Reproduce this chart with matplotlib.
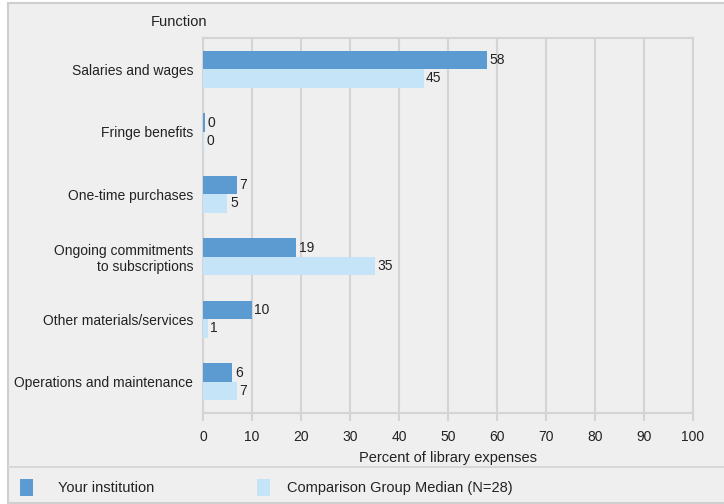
import matplotlib
matplotlib.use("Agg")
import matplotlib.pyplot as plt
from matplotlib.patches import Rectangle
import numpy as np

plt.rcParams['font.family'] = ['Liberation Sans', 'DejaVu Sans']

categories = ["Salaries and wages", "Fringe benefits", "One-time purchases",
              "Ongoing commitments\nto subscriptions", "Other materials/services",
              "Operations and maintenance"]
your_inst = [58, 0.4, 7, 19, 10, 6]
comparison = [45, 0.2, 5, 35, 1, 7]
xticks = [0, 10, 20, 30, 40, 50, 60, 70, 80, 90, 100]
series_names = ["Your institution", "Comparison Group Median (N=28)"]

c_dark = "#5b9bd1"
c_light = "#c6e4f7"
bg = "#efefef"
gridc = "#d4d4d4"

W, H = 724, 504
fig = plt.figure(figsize=(W / 100, H / 100), dpi=100, facecolor="white")

# outer panel
fig.patches.append(Rectangle((8 / W, 1 - 503 / H), (W - 8) / W + 0.01, 500 / H,
                             transform=fig.transFigure, facecolor=bg,
                             edgecolor="#cfcfcf", lw=1.5, zorder=-2))
# separator line for legend strip
fig.add_artist(plt.Line2D([8 / W, 1], [1 - 467 / H, 1 - 467 / H],
                          transform=fig.transFigure, color="#d8d8d8", lw=1.5))

ax = fig.add_axes([203 / W, 1 - 413 / H, (693 - 203) / W, (413 - 38) / H])
ax.set_facecolor(bg)

n = len(categories)
y = np.arange(n)
h = 0.295
ax.barh(y - h / 2, your_inst, height=h, color=c_dark, zorder=3)
ax.barh(y + h / 2, comparison, height=h, color=c_light, zorder=3)

for yi, v in zip(y, your_inst):
    ax.text(v + 0.5, yi - h / 2, f"{round(v)}", va="center", ha="left",
            fontsize=10, color="#222222", zorder=4)
for yi, v in zip(y, comparison):
    ax.text(v + 0.5, yi + h / 2, f"{round(v)}", va="center", ha="left",
            fontsize=10, color="#222222", zorder=4)

ax.set_ylim(n - 0.5, -0.5)
ax.set_xlim(0, 100)
ax.set_xticks(xticks)
ax.set_xticklabels([str(t) for t in xticks], fontsize=10, color="#222222")
ax.set_yticks(y)
ax.set_yticklabels(categories, fontsize=10, color="#222222")
ax.tick_params(axis="y", length=0, pad=7)
ax.tick_params(axis="x", length=6, width=1.5, color=gridc, pad=6)
ax.grid(axis="x", color=gridc, lw=1.5, zorder=0)
for s in ax.spines.values():
    s.set_color(gridc)
    s.set_linewidth(1.5)
ax.set_xlabel("Percent of library expenses", fontsize=10.5, color="#222222", labelpad=5)

fig.text(179 / W, 1 - 22 / H, "Function", ha="center", va="center",
         fontsize=10.5, color="#222222")

# legend
fig.patches.append(Rectangle((20 / W, 1 - 496 / H), 13 / W, 17 / H,
                             transform=fig.transFigure, facecolor=c_dark, edgecolor="none"))
fig.text(58 / W, 1 - 488 / H, series_names[0], ha="left", va="center",
         fontsize=10.5, color="#222222")
fig.patches.append(Rectangle((257 / W, 1 - 496 / H), 13 / W, 17 / H,
                             transform=fig.transFigure, facecolor=c_light, edgecolor="none"))
fig.text(287 / W, 1 - 488 / H, series_names[1], ha="left", va="center",
         fontsize=10.5, color="#222222")

fig.savefig("out.png", dpi=100, facecolor="white")
